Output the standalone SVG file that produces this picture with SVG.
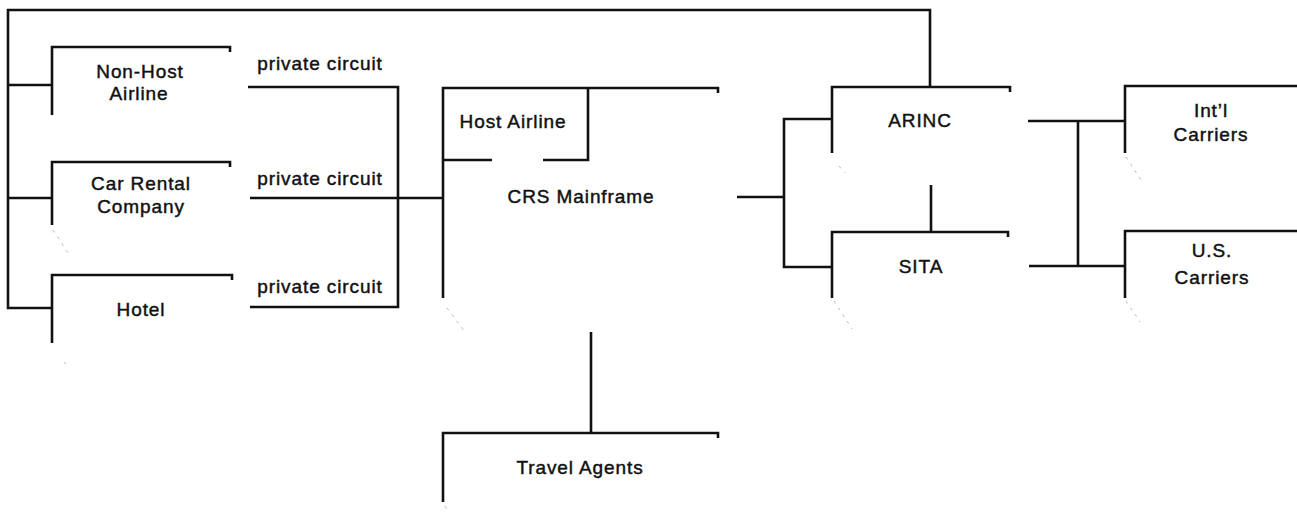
<svg xmlns="http://www.w3.org/2000/svg" width="1297" height="520" viewBox="0 0 1297 520">
<style>
.b{fill:none;stroke:#111;stroke-width:2.6;stroke-linejoin:miter;stroke-linecap:butt}
.c{fill:none;stroke:#111;stroke-width:2.6}
.f{fill:none;stroke:#bbb;stroke-width:1;stroke-dasharray:3 5}
text{font-family:"Liberation Sans",Arial,sans-serif;font-size:19px;letter-spacing:0.9px;fill:#111;stroke:#111;stroke-width:0.45;text-anchor:middle}
</style>
<rect width="1297" height="520" fill="#fff"/>
<g id="connectors">
<path class="c" d="M930,87 V10 H8 V308 H52"/>
<path class="c" d="M8,85 H52"/>
<path class="c" d="M8,198 H52"/>
<path class="c" d="M248,87 H398 V307 H250"/>
<path class="c" d="M250,198 H443"/>
<path class="c" d="M737,197 H784"/>
<path class="c" d="M832,119 H784 V267 H832"/>
<path class="c" d="M931,185 V232"/>
<path class="c" d="M1028,121 H1125"/>
<path class="c" d="M1029,266 H1125"/>
<path class="c" d="M1078,121 V266"/>
<path class="c" d="M591,332 V433"/>
<text x="320" y="70">private circuit</text>
<text x="320" y="185">private circuit</text>
<text x="320" y="293">private circuit</text>
</g>
<g id="non-host-airline">
<path class="b" d="M52,115 V47 H230 v5"/>
<text x="140" y="78">Non-Host</text>
<text x="139" y="100">Airline</text>
</g>
<g id="car-rental">
<path class="b" d="M52,225 V162 H230 v5"/>
<path class="f" d="M53,230 L68,253"/>
<text x="141" y="190">Car Rental</text>
<text x="141" y="213">Company</text>
</g>
<g id="hotel">
<path class="b" d="M52,343 V275 H232 v5"/>
<path class="f" d="M64,362 L68,366"/>
<text x="141" y="316">Hotel</text>
</g>
<g id="crs-mainframe">
<path class="b" d="M443,298 V88 H718 v5"/>
<path class="b" d="M443,160 H492 M543,160 H588 V88"/>
<path class="f" d="M447,308 L465,332"/>
<text x="513" y="128">Host Airline</text>
<text x="581" y="203">CRS Mainframe</text>
</g>
<g id="travel-agents">
<path class="b" d="M443,502 V433 H718 v5"/>
<path class="f" d="M445,506 L448,511"/>
<text x="580" y="474">Travel Agents</text>
</g>
<g id="arinc">
<path class="b" d="M832,153 V87 H1010 v5"/>
<path class="f" d="M839,166 L845,173"/>
<text x="920" y="127">ARINC</text>
</g>
<g id="sita">
<path class="b" d="M832,298 V232 H1008 v5"/>
<path class="f" d="M834,301 L852,329"/>
<text x="921" y="273">SITA</text>
</g>
<g id="intl-carriers">
<path class="b" d="M1125,153 V86 H1297"/>
<path class="f" d="M1126,157 L1143,183"/>
<text x="1211" y="117">Int’l</text>
<text x="1211" y="141">Carriers</text>
</g>
<g id="us-carriers">
<path class="b" d="M1125,298 V231 H1297"/>
<path class="f" d="M1126,301 L1140,322"/>
<text x="1212" y="257">U.S.</text>
<text x="1212" y="284">Carriers</text>
</g>
</svg>
